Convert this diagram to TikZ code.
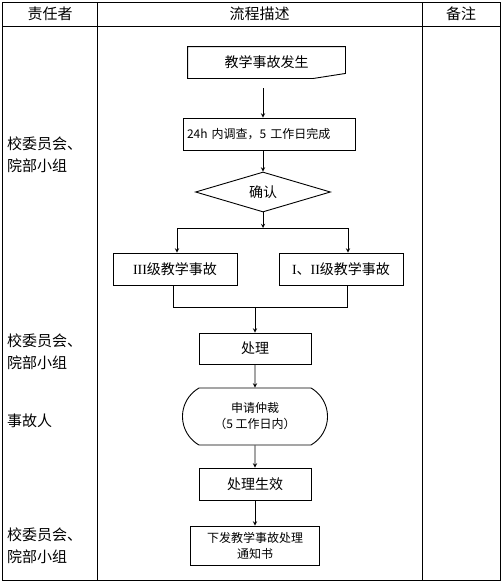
\documentclass[tikz,border=0pt]{standalone}
\usepackage{fontspec}
\setmainfont{Noto Sans CJK SC}
\newfontfamily\numfont{Liberation Serif}
\usetikzlibrary{shapes.geometric,shapes.misc}
\begin{document}
\begin{tikzpicture}[x=1pt,y=-1pt,
    tblLine/.style={draw=black,line width=1pt},
    headText/.style={font=\fontsize{15}{18}\selectfont},
    roleText/.style={anchor=west,align=left,inner sep=0pt,font=\fontsize{15}{22}\selectfont},
    flowBox/.style={rectangle,draw=black,line width=0.9pt,inner sep=0pt,align=center,font=\fontsize{14}{16}\selectfont},
    flowSmall/.style={font=\fontsize{12}{16}\selectfont},
    flowDiamond/.style={diamond,draw=black,line width=0.9pt,inner sep=0pt,aspect=3,font=\fontsize{14}{16}\selectfont},
    flowRound/.style={rounded rectangle,rounded rectangle arc length=120,draw=black,line width=0.9pt,inner sep=0pt,align=center,font=\fontsize{12}{16}\selectfont},
    flowLine/.style={line width=0.9pt},
    flowArrow/.style={->,>=stealth,line width=0.9pt},
]
\useasboundingbox (0,0) rectangle (503,584);
% === table ===
\draw[tblLine] (2,2) rectangle (500,580);
\draw[tblLine] (2,26) -- (500,26);
\draw[tblLine] (97,2) -- (97,580);
\draw[tblLine] (422,2) -- (422,580);
\node[headText] (hdRole) at (50,14) {责任者};
\node[headText] (hdFlow) at (259.5,14) {流程描述};
\node[headText] (hdNote) at (461,14) {备注};
% === roles ===
\node[roleText] (roleA) at (7,155) {校委员会、\\院部小组};
\node[roleText] (roleB) at (7,351.5) {校委员会、\\院部小组};
\node[roleText] (roleC) at (7,421) {事故人};
\node[roleText] (roleD) at (7,545.5) {校委员会、\\院部小组};
% === flow ===
\node[flowBox,draw=none,minimum width=157pt,minimum height=31pt] (start) at (266.5,62.5) {教学事故发生};
\draw[flowLine] (start.north west) -- (start.north east) -- ([yshift=5pt]start.south east)
    -- ([xshift=-32pt]start.south east) -- (start.south west) -- cycle;
\coordinate (startOut) at (263,88);
\node[flowBox,flowSmall,minimum width=172pt,minimum height=32pt,text width=164pt,inner xsep=4pt,align=left] (survey) at (269,134) {24h 内调查，5 工作日完成};
\node[flowDiamond,minimum width=135pt,minimum height=40pt] (confirm) at (263,192) {确认};
\coordinate (split) at (263,228);
\coordinate (leftTop) at (177,228);
\coordinate (rightTop) at (348,228);
\node[flowBox,minimum width=124pt,minimum height=32pt] (levelThree) at (175,269) {{\numfont III}级教学事故};
\node[flowBox,minimum width=124pt,minimum height=32pt] (levelOne) at (341,269) {{\numfont I}、{\numfont II}级教学事故};
\coordinate (mergeL) at (173,307);
\coordinate (mergeR) at (347,307);
\node[flowBox,minimum width=112pt,minimum height=31pt] (handle) at (255,348.5) {处理};
\node[flowRound,minimum width=145pt,minimum height=57pt] (appeal) at (255,416.5) {申请仲裁\\（5 工作日内）};
\node[flowBox,minimum width=112pt,minimum height=32pt] (effect) at (255,484) {处理生效};
\node[flowBox,flowSmall,minimum width=129pt,minimum height=39pt] (notice) at (255,545.5) {下发教学事故处理\\通知书};
% === connectors ===
\draw[flowArrow] (startOut) -- (startOut |- survey.north);
\draw[flowArrow] (survey.south -| confirm) -- (confirm.north);
\draw[flowArrow] (confirm.south) -- (split);
\draw[flowLine] (leftTop) -- (rightTop);
\draw[flowArrow] (leftTop) -- (leftTop |- levelThree.north);
\draw[flowArrow] (rightTop) -- (rightTop |- levelOne.north);
\draw[flowLine] (mergeL |- levelThree.south) -- (mergeL) -- (mergeR) -- (mergeR |- levelOne.south);
\draw[flowArrow] (handle.north |- mergeL) -- (handle.north);
\draw[flowArrow] (handle) -- (appeal);
\draw[flowArrow] (appeal) -- (effect);
\draw[flowArrow] (effect) -- (notice);
\end{tikzpicture}
\end{document}
